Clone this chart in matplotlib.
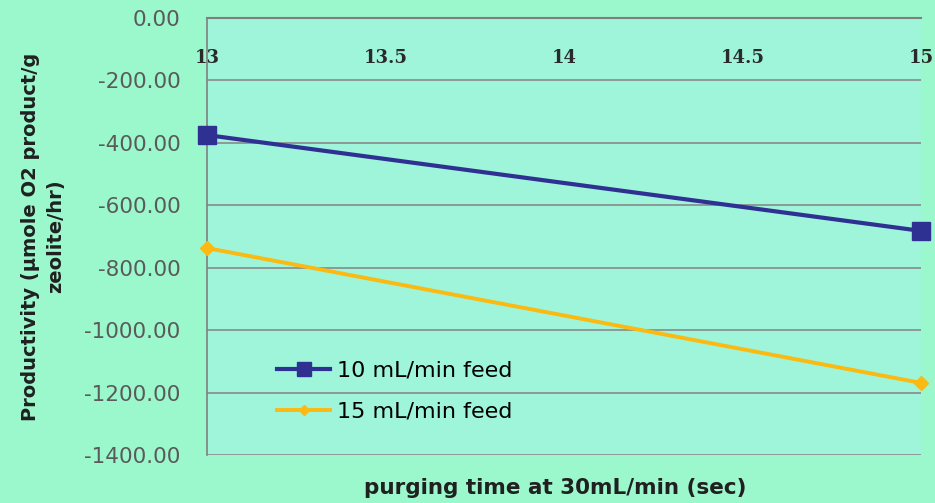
import matplotlib
matplotlib.use("Agg")
import matplotlib.pyplot as plt

# data
purge_time = [13, 15]
feed_10 = [-375, -682]
feed_15 = [-737, -1169]
x_ticks = [13, 13.5, 14, 14.5, 15]
x_tick_labels = ['13', '13.5', '14', '14.5', '15']
y_ticks = [0, -200, -400, -600, -800, -1000, -1200, -1400]

fig = plt.figure(figsize=(9.35, 5.03), dpi=100)
fig.patch.set_facecolor('#9bf7cc')
ax = fig.add_axes([0.2214, 0.0954, 0.7636, 0.8688])
ax.set_facecolor('#9ef5da')

ax.plot(purge_time, feed_10, color='#2e3192', lw=3, marker='s',
        markersize=13, label='10 mL/min feed', zorder=3, clip_on=False)
ax.plot(purge_time, feed_15, color='#fbb911', lw=2.8, marker='D',
        markersize=7, label='15 mL/min feed', zorder=3, clip_on=False)

ax.set_xlim(13, 15)
ax.set_ylim(-1400, 0)
ax.set_yticks(y_ticks)
ax.set_yticklabels(['%.2f' % v for v in y_ticks], fontsize=15.5,
                   color='#5a5a5a')
ax.yaxis.grid(True, color='#8a8a8a', lw=1.2)
ax.set_axisbelow(True)

ax.xaxis.set_ticks_position('top')
ax.set_xticks(x_ticks)
ax.set_xticklabels(x_tick_labels, fontsize=13, fontweight='bold',
                   family='DejaVu Serif', color='#2a2a2a')
ax.tick_params(axis='x', length=0, pad=-35)
ax.tick_params(axis='y', length=0, pad=19)

for side in ['right', 'bottom']:
    ax.spines[side].set_visible(False)
ax.spines['top'].set_color('#808080')
ax.spines['top'].set_linewidth(1.5)
ax.spines['left'].set_color('#808080')
ax.spines['left'].set_linewidth(1.2)

ax.set_ylabel('Productivity (\u00b5mole O2 product/g\nzeolite/hr)',
              fontsize=14, fontweight='bold', color='#202020',
              labelpad=14, linespacing=1.4)
fig.text(0.594, 0.018, 'purging time at 30mL/min (sec)', ha='center',
         fontsize=15.5, fontweight='bold', color='#202020')

ax.legend(loc='lower left', bbox_to_anchor=(0.07, 0.03), frameon=False,
          fontsize=16, handlelength=2.4, labelspacing=0.95,
          handletextpad=0.3, markerscale=0.8)

plt.savefig('out.png', dpi=100, facecolor=fig.get_facecolor())
